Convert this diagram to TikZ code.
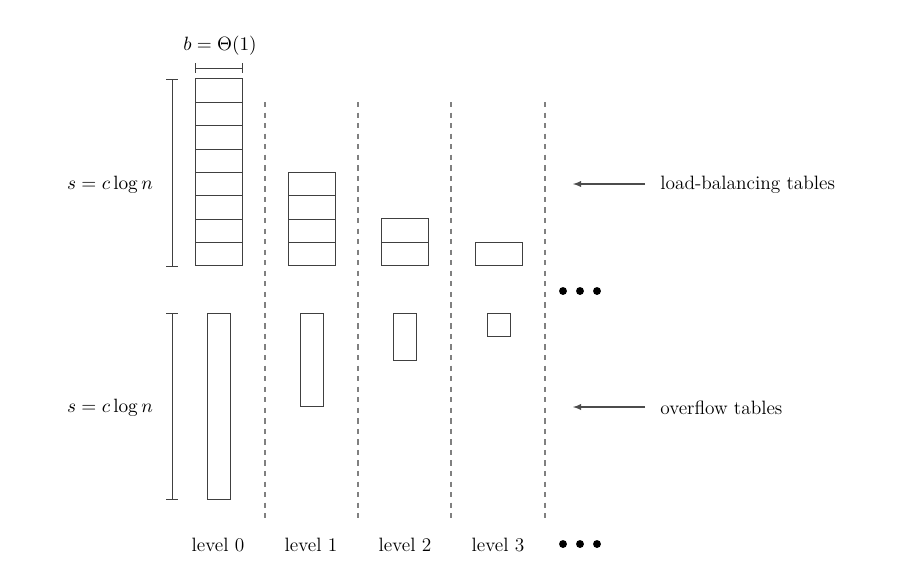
\documentclass[tikz,border=0pt]{standalone}
\begin{document}
\begin{tikzpicture}[x=0.02cm,y=-0.02cm,
  box/.style={draw=black!75,line width=0.5pt},
  sep/.style={draw=black!50,dashed,line width=0.6pt},
  lab/.style={font=\fontsize{11}{13}\selectfont,inner sep=0pt},
  dot/.style={circle,fill=black,inner sep=0pt,minimum size=4.5pt},
  ar/.style={draw=black!70,->,>=latex,line width=0.6pt}]
\useasboundingbox (0,0) rectangle (913,579);
% load-balancing tables
\foreach \x/\n/\nm in {195/8/a,288/4/b,381/2/c,475/1/d}{
  \node[box,minimum width=0.94cm,minimum height={\n*0.468cm},anchor=south west,inner sep=0pt] (t\nm) at (\x,266) {};
  \foreach \k in {1,...,\n}{ \ifnum\k<\n \draw[black!75] (\x,266-\k*23.4) -- (\x+47,266-\k*23.4); \fi }
}
% overflow tables
\foreach \x/\h/\nm in {207/186/a,300/93/b,393/46.5/c,487/23.3/d}{
  \node[box,minimum width=0.46cm,minimum height={\h*0.02cm},anchor=north west,inner sep=0pt] (o\nm) at (\x,313) {};
}
% separators
\foreach \x in {265,358,451,545}{ \draw[sep] (\x,102) -- (\x,518); }
% height bars
\draw[black!75] (172,79) -- (172,266) (166,79) -- (178,79) (166,266) -- (178,266);
\draw[black!75] (172,313) -- (172,499) (166,313) -- (178,313) (166,499) -- (178,499);
\node[lab] (s1) at (110,185) {$s=c\log n$};
\node[lab] (s2) at (110,408) {$s=c\log n$};
% width bar
\draw[black!75] (195,68) -- (242,68) (195,63) -- (195,73) (242,63) -- (242,73);
\node[lab] (bw) at (220,46) {$b=\Theta(1)$};
% arrows
\node[lab,anchor=west] (l1) at (660,185) {load-balancing tables};
\node[lab,anchor=west] (l2) at (660,408) {overflow tables};
\coordinate (a1) at (645,184); \coordinate (b1) at (573,184);
\coordinate (a2) at (645,407); \coordinate (b2) at (573,407);
\draw[ar] (a1) -- (b1);
\draw[ar] (a2) -- (b2);
% dots
\foreach \y/\r in {291/a,544/b}{
  \node[dot] (d\r1) at (563,\y) {};
  \node[dot] (d\r2) at (580,\y) {};
  \node[dot] (d\r3) at (597,\y) {};
}
% level labels
\foreach \x/\i in {218/0,311/1,405/2,498/3}{ \node[lab] (lv\i) at (\x,545) {level \i}; }
\end{tikzpicture}
\end{document}
